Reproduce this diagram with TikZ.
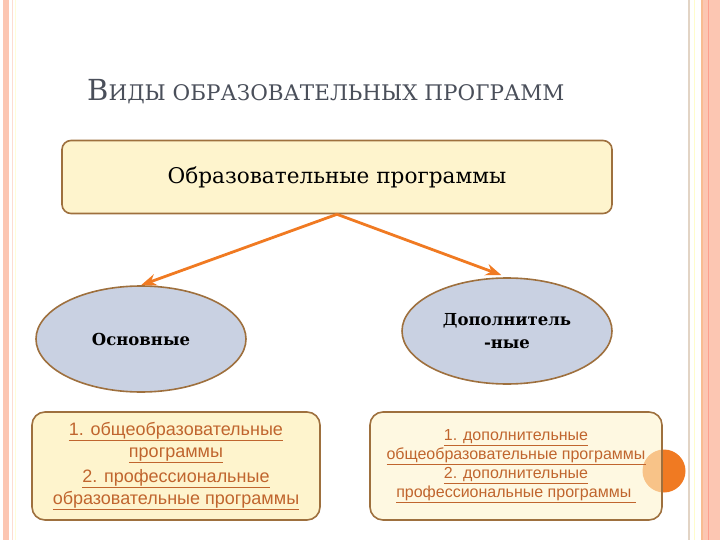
\documentclass[tikz,border=0pt]{standalone}
\usepackage{fontspec}
\setmainfont{DejaVu Serif}
\newfontfamily\armfont{Liberation Sans}
\usepackage{xcolor}
\usetikzlibrary{arrows.meta,positioning,shapes.geometric}

\definecolor{boxfill}{HTML}{FEF4CD}
\definecolor{boxline}{HTML}{9E703E}
\definecolor{ovalfill}{HTML}{C9D1E2}
\definecolor{arrowor}{HTML}{F07A22}
\definecolor{linktxt}{HTML}{C0652E}
\definecolor{titletxt}{HTML}{4A4F5A}
\definecolor{stripe}{HTML}{FCC6B2}

\begin{document}
\begin{tikzpicture}[
  x=1pt, y=-1pt,
  topbox/.style={rectangle, draw=boxline, line width=1.6pt, fill=boxfill, rounded corners=9pt, minimum width=550pt, minimum height=73pt, font=\fontsize{21.6}{26}\selectfont},
  oval/.style={ellipse, draw=boxline, line width=1.6pt, fill=ovalfill, minimum width=210pt, minimum height=106pt, inner sep=0pt, align=center, font=\bfseries\fontsize{16.5}{23}\selectfont},
  listbox/.style={rectangle, draw=boxline, line width=1.6pt, fill=boxfill, rounded corners=13pt, minimum height=108pt, align=center, text=linktxt},
  >=Stealth
]
\useasboundingbox (0,0) rectangle (720,540);

% Slide frame
\fill[stripe] (3,0) rectangle (9,540);
\draw[stripe!60, line width=1pt] (12,0) -- (12,540);
\draw[yellow!15, line width=1pt] (15,0) -- (15,540);
\draw[boxline!30, line width=1.5pt] (689,0) -- (689,540);
\draw[yellow!20, line width=1pt] (694,0) -- (694,540);
\fill[stripe] (701,0) rectangle (720,540);
\draw[arrowor!50, line width=1.2pt] (702,0) -- (702,540);
\draw[stripe!80!red, line width=0.8pt] (708,0) -- (708,540);

% Title
\node[anchor=base west, text=titletxt, inner sep=0pt] (title) at (87,101)
  {{\fontsize{29}{34}\selectfont В}{\fontsize{21.5}{34}\selectfont ИДЫ ОБРАЗОВАТЕЛЬНЫХ ПРОГРАММ}};

% Nodes
\node[topbox] (progs) at (337,177) {Образовательные программы};
\node[oval] (osn) at (141,339) {Основные};
\node[oval] (dop) at (507,331) {Дополнитель\\-ные};

\fill[arrowor] (664,471) circle (21.5);

\node[listbox, minimum width=288pt, font=\armfont\fontsize{18}{22}\selectfont] (osnlist) at (176,466)
  {\underline{1. общеобразовательные}\\ \underline{программы}\\[3pt]
   \underline{2. профессиональные}\\ \underline{образовательные программы}};
\node[listbox, minimum width=292pt, fill opacity=0.6, text opacity=1, draw opacity=1, font=\armfont\fontsize{16}{19}\selectfont] (doplist) at (516,466)
  {\underline{1. дополнительные}\\ \underline{общеобразовательные программы}\\
   \underline{2. дополнительные}\\ \underline{профессиональные программы\ }};

% Edges
\draw[->, arrowor, line width=2.8pt] (progs.south) -- (osn.north);
\draw[->, arrowor, line width=2.8pt, shorten >=6pt] (progs.south) -- (dop.north);

\end{tikzpicture}
\end{document}
